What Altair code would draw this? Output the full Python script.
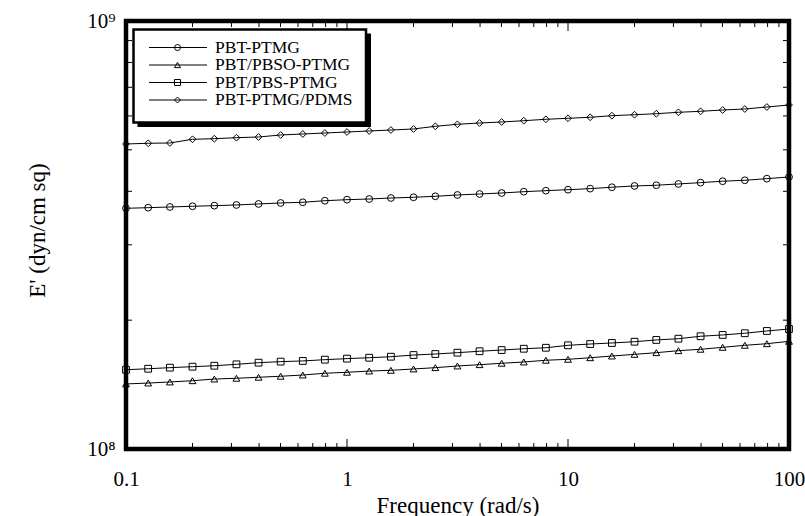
import altair as alt
import pandas as pd

# ---------------- data ----------------
freq = [0.1, 0.126, 0.158, 0.2, 0.251, 0.316, 0.398, 0.501, 0.631, 0.794,
        1.0, 1.26, 1.58, 2.0, 2.51, 3.16, 3.98, 5.01, 6.31, 7.94,
        10.0, 12.6, 15.8, 20.0, 25.1, 31.6, 39.8, 50.1, 63.1, 79.4, 100.0]

series_names = ["PBT-PTMG", "PBT/PBSO-PTMG", "PBT/PBS-PTMG", "PBT-PTMG/PDMS"]
marker_shapes = ["circle", "triangle-up", "square", "diamond"]

pbt_ptmg = [3.651e8, 3.663e8, 3.677e8, 3.691e8, 3.703e8, 3.717e8, 3.737e8, 3.757e8,
            3.771e8, 3.803e8, 3.824e8, 3.838e8, 3.859e8, 3.874e8, 3.894e8, 3.922e8,
            3.943e8, 3.964e8, 3.992e8, 4.014e8, 4.035e8, 4.058e8, 4.089e8, 4.117e8,
            4.133e8, 4.162e8, 4.191e8, 4.223e8, 4.245e8, 4.282e8, 4.321e8]

pbt_pbso_ptmg = [1.419e8, 1.426e8, 1.434e8, 1.444e8, 1.457e8, 1.463e8, 1.471e8, 1.479e8,
                 1.489e8, 1.503e8, 1.511e8, 1.521e8, 1.527e8, 1.538e8, 1.549e8, 1.563e8,
                 1.574e8, 1.586e8, 1.597e8, 1.612e8, 1.620e8, 1.634e8, 1.649e8, 1.664e8,
                 1.679e8, 1.697e8, 1.710e8, 1.728e8, 1.747e8, 1.762e8, 1.785e8]

pbt_pbs_ptmg = [1.532e8, 1.540e8, 1.549e8, 1.557e8, 1.565e8, 1.577e8, 1.591e8, 1.600e8,
                1.606e8, 1.617e8, 1.626e8, 1.634e8, 1.643e8, 1.658e8, 1.667e8, 1.679e8,
                1.692e8, 1.703e8, 1.715e8, 1.724e8, 1.747e8, 1.759e8, 1.769e8, 1.781e8,
                1.798e8, 1.810e8, 1.834e8, 1.847e8, 1.864e8, 1.887e8, 1.907e8]

pbt_ptmg_pdms = [5.160e8, 5.180e8, 5.188e8, 5.292e8, 5.309e8, 5.338e8, 5.358e8, 5.416e8,
                 5.445e8, 5.474e8, 5.504e8, 5.534e8, 5.563e8, 5.594e8, 5.675e8, 5.737e8,
                 5.777e8, 5.808e8, 5.849e8, 5.893e8, 5.925e8, 5.957e8, 6.009e8, 6.040e8,
                 6.073e8, 6.119e8, 6.152e8, 6.195e8, 6.229e8, 6.296e8, 6.364e8]

x_major_labels = [0.1, 1, 10, 100]
x_minor_ticks = [0.2, 0.3, 0.4, 0.5, 0.6, 0.7, 0.8, 0.9,
                 2, 3, 4, 5, 6, 7, 8, 9,
                 20, 30, 40, 50, 60, 70, 80, 90]
x_major_ticks = [1, 10]
y_major_labels = [1e8, 1e9]
y_minor_ticks = [2e8, 3e8, 4e8, 5e8, 6e8, 7e8, 8e8, 9e8]

all_series = [pbt_ptmg, pbt_pbso_ptmg, pbt_pbs_ptmg, pbt_ptmg_pdms]

rows = []
for name, vals in zip(series_names, all_series):
    for f, v in zip(freq, vals):
        rows.append({"series": name, "freq": f, "E": v})
df = pd.DataFrame(rows)

# ---------------- styling ----------------
FONT = "Liberation Serif"
W, H = 663, 428

x_scale = alt.Scale(type="log", domain=[0.1, 100], nice=False)
y_scale = alt.Scale(type="log", domain=[1e8, 1e9], nice=False)

x_axis = alt.Axis(values=x_major_labels, format="~g", labelFontSize=21,
                  labelBaseline="alphabetic", labelPadding=36,
                  labelFlush=False, labelOverlap=False,
                  titleFontSize=23, titleX=W / 2, titleY=63,
                  titleBaseline="alphabetic", titleAlign="center")
y_axis = alt.Axis(values=y_major_labels,
                  labelExpr="datum.value >= 5e8 ? '10\u2079' : '10\u2078'",
                  labelFontSize=21, labelBaseline="middle", labelPadding=11,
                  labelFlush=False, labelOverlap=False,
                  titleFontSize=23, titleX=-82, titleY=209, titleAngle=270,
                  titleBaseline="alphabetic", titleAlign="center")

x_enc = alt.X("freq:Q", scale=x_scale, axis=x_axis, title="Frequency (rad/s)")
y_enc = alt.Y("E:Q", scale=y_scale, axis=y_axis, title="E' (dyn/cm sq)")

shape_scale = alt.Scale(domain=series_names, range=marker_shapes)

lines = alt.Chart(df).mark_line(color="black", strokeWidth=1).encode(
    x=x_enc, y=y_enc, detail="series:N")

points = alt.Chart(df).mark_point(filled=False, color="black", strokeWidth=1,
                                  size=46, opacity=1).encode(
    x=x_enc, y=y_enc,
    shape=alt.Shape("series:N", scale=shape_scale, legend=None))

xminor_df = pd.DataFrame({"freq": x_minor_ticks})
xmajor_df = pd.DataFrame({"freq": x_major_ticks})
yminor_df = pd.DataFrame({"E": y_minor_ticks})

tick_style = dict(color="black", strokeWidth=1)
xt_bot_minor = alt.Chart(xminor_df).mark_rule(**tick_style).encode(
    x=x_enc, y=alt.value(H), y2=alt.value(H - 6))
xt_top_minor = alt.Chart(xminor_df).mark_rule(**tick_style).encode(
    x=x_enc, y=alt.value(0), y2=alt.value(6))
xt_bot_major = alt.Chart(xmajor_df).mark_rule(**tick_style).encode(
    x=x_enc, y=alt.value(H), y2=alt.value(H - 10))
xt_top_major = alt.Chart(xmajor_df).mark_rule(**tick_style).encode(
    x=x_enc, y=alt.value(0), y2=alt.value(10))
yt_left = alt.Chart(yminor_df).mark_rule(**tick_style).encode(
    y=y_enc, x=alt.value(0), x2=alt.value(6))
yt_right = alt.Chart(yminor_df).mark_rule(**tick_style).encode(
    y=y_enc, x=alt.value(W), x2=alt.value(W - 6))

main = alt.layer(xt_bot_minor, xt_top_minor, xt_bot_major, xt_top_major,
                 yt_left, yt_right, lines, points)

# ---------------- legend ----------------
leg_df = pd.DataFrame({"series": series_names})
one = pd.DataFrame({"k": [0]})
y_leg = alt.Y("series:N", axis=None,
              scale=alt.Scale(type="point", domain=series_names,
                              range=[26.5, 79], padding=0))

shadow = alt.Chart(one).mark_rect(color="black").encode(
    x=alt.value(11.5), x2=alt.value(245), y=alt.value(12.5), y2=alt.value(106))
box = alt.Chart(one).mark_rect(fill="white", stroke="black", strokeWidth=2.5).encode(
    x=alt.value(7.5), x2=alt.value(240), y=alt.value(8.5), y2=alt.value(101.5))
leg_lines = alt.Chart(leg_df).mark_rule(color="black", strokeWidth=1).encode(
    x=alt.value(23), x2=alt.value(81), y=y_leg)
leg_pts = alt.Chart(leg_df).mark_point(filled=False, color="black", strokeWidth=1,
                                       size=36, opacity=1).encode(
    x=alt.value(51.5), y=y_leg,
    shape=alt.Shape("series:N", scale=shape_scale, legend=None))
leg_text = alt.Chart(leg_df).mark_text(align="left", baseline="middle", font=FONT,
                                       fontSize=17.5, color="black").encode(
    x=alt.value(89), y=y_leg, text="series:N")

# thick plot frame
frame = alt.Chart(one).mark_rect(fill="transparent", stroke="black",
                                 strokeWidth=4.5).encode(
    x=alt.value(0), x2=alt.value(W), y=alt.value(0), y2=alt.value(H))

legend = alt.layer(shadow, box, leg_lines, leg_pts, leg_text, frame)

chart = alt.layer(main, legend).resolve_scale(y="independent").properties(
    width=W, height=H,
    autosize=alt.AutoSizeParams(type="none"),
    padding={"left": 126, "top": 21, "right": 16, "bottom": 67},
    background="white",
).configure_view(
    stroke="black", strokeWidth=3
).configure_axis(
    labelFont=FONT, titleFont=FONT, labelColor="black", titleColor="black",
    titleFontWeight="normal", grid=False, domain=False, ticks=False, tickSize=0
)

chart.save("out.html", embed_options={"renderer": "svg", "actions": False})
